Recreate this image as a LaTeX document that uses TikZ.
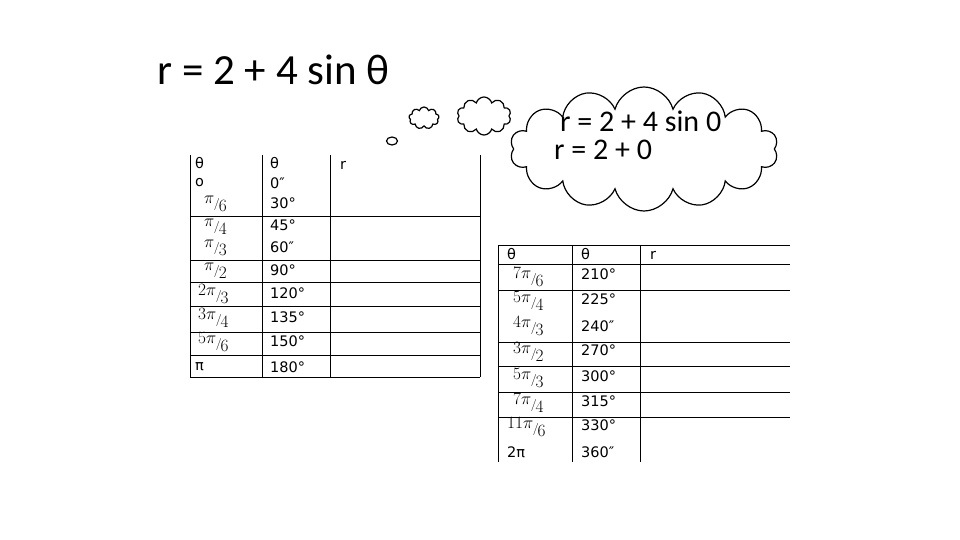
\documentclass[tikz,border=0pt]{standalone}
\usepackage{fontspec}
\setmainfont{Carlito}
\newfontfamily\tbf{DejaVu Sans}
\usetikzlibrary{shapes.symbols,shapes.geometric}
\newcommand\fr[2]{\raisebox{4pt}{$#1$}\hspace{-0.5pt}{\large$/$}\hspace{-1pt}\raisebox{-4.5pt}{$#2$}}
\begin{document}
\begin{tikzpicture}[x=1pt,y=-1pt,
  tl/.style={line width=0.8pt},
  cell/.style={anchor=west,font=\tbf\fontsize{14.5}{15}\selectfont,inner sep=0pt},
  fcell/.style={anchor=west,font=\fontsize{16}{16}\selectfont,inner sep=0pt},
  cl/.style={cloud,draw,line width=1.2pt,cloud puffs=#1,aspect=2,inner sep=0pt}]
\useasboundingbox (0,0) rectangle (960,540);
\node[anchor=west,font=\fontsize{43}{43}\selectfont] (title) at (154,70) {r = 2 + 4 sin θ};
% left table
\draw[tl] (190,155) -- (190,377) (262,155) -- (262,377) (330,155) -- (330,377) (480,155) -- (480,377);
\foreach \y in {216,260,282,306,332,355,377} \draw[tl] (190,\y) -- (480,\y);
\node[cell] (a1) at (195,163) {θ};
\node[cell] (a2) at (270,163) {θ};
\node[cell] (a3) at (340,165) {r};
\node[cell] (b1) at (195,183) {o};
\node[cell] (b2) at (270,183) {0″};
\node[fcell] (c1) at (204,204) {\fr{\pi}{6}};
\node[cell] (c2) at (270,203) {30°};
\node[fcell] (d1) at (204,227) {\fr{\pi}{4}};
\node[cell] (d2) at (270,225) {45°};
\node[fcell] (e1) at (204,248) {\fr{\pi}{3}};
\node[cell] (e2) at (270,247) {60″};
\node[fcell] (f1) at (204,271) {\fr{\pi}{2}};
\node[cell] (f2) at (270,270) {90°};
\node[fcell] (g1) at (198,294) {\fr{2\pi}{3}};
\node[cell] (g2) at (270,293) {120°};
\node[fcell] (h1) at (198,318) {\fr{3\pi}{4}};
\node[cell] (h2) at (270,317) {135°};
\node[fcell] (i1) at (198,342) {\fr{5\pi}{6}};
\node[cell] (i2) at (270,341) {150°};
\node[cell] (j1) at (195,367) {π};
\node[cell] (j2) at (270,367) {180°};
% right table
\draw[tl] (498,245) -- (790,245);
\draw[tl] (498,245) -- (498,462) (572,245) -- (572,462) (640,245) -- (640,462);
\foreach \y in {264,290,342,366,392,417} \draw[tl] (498,\y) -- (790,\y);
\node[cell] (k1) at (507,254) {θ};
\node[cell] (k2) at (581,254) {θ};
\node[cell] (k3) at (650,255) {r};
\node[fcell] (l1) at (513,277) {\fr{7\pi}{6}};
\node[cell] (l2) at (581,274) {210°};
\node[fcell] (m1) at (513,301) {\fr{5\pi}{4}};
\node[cell] (m2) at (581,299) {225°};
\node[fcell] (n1) at (513,326) {\fr{4\pi}{3}};
\node[cell] (n2) at (581,326) {240″};
\node[fcell] (o1) at (513,352) {\fr{3\pi}{2}};
\node[cell] (o2) at (581,350) {270°};
\node[fcell] (p1) at (513,378) {\fr{5\pi}{3}};
\node[cell] (p2) at (581,376) {300°};
\node[fcell] (q1) at (513,403) {\fr{7\pi}{4}};
\node[cell] (q2) at (581,401) {315°};
\node[fcell] (r1) at (507,427) {\fr{11\pi}{6}};
\node[cell] (r2) at (581,425) {330°};
\node[cell] (s1) at (507,452) {2π};
\node[cell] (s2) at (581,452) {360″};
% clouds
\node[cl=14,minimum width=268pt,minimum height=124pt] (big) at (644,149) {};
\node[cl=10,minimum width=54pt,minimum height=38pt] (c3) at (484,116) {};
\node[cl=9,minimum width=30pt,minimum height=22pt] (c2) at (424,118) {};
\node[draw,ellipse,line width=1.2pt,minimum width=11pt,minimum height=8pt,inner sep=0pt] (c1) at (392,141) {};
\node[anchor=west,font=\fontsize{30}{30}\selectfont,inner sep=0pt] (t1) at (560,121) {r = 2 + 4 sin 0};
\node[anchor=west,font=\fontsize{30}{30}\selectfont,inner sep=0pt] (t2) at (554,150) {r = 2 + 0};
\end{tikzpicture}
\end{document}
